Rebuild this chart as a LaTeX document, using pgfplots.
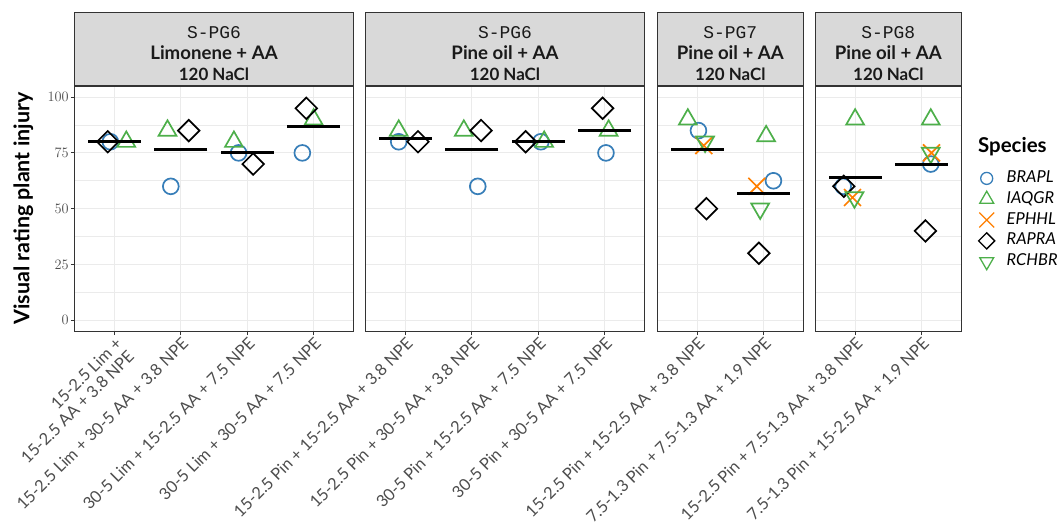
\documentclass[border=0pt]{standalone}
\usepackage{pgfplots}
\pgfplotsset{compat=1.18}
\usepackage{fontspec}
\setmainfont{Lato}
\newfontfamily\monofont{Liberation Mono}

\definecolor{cBRAPL}{HTML}{377EB8}
\definecolor{cIAQGR}{HTML}{4DAF4A}
\definecolor{cEPHHL}{HTML}{FF7F00}
\definecolor{cRCHBR}{HTML}{4DAF4A}
\definecolor{grey10}{HTML}{1A1A1A}
\definecolor{grey20}{HTML}{333333}
\definecolor{grey30}{HTML}{4D4D4D}
\definecolor{grey85}{HTML}{D9D9D9}
\definecolor{grey92}{HTML}{EBEBEB}

\pgfplotsset{
  facet/.style={
    scale only axis, height=245.3bp, anchor=south west,
    ymin=-5, ymax=105,
    ytick={0,25,50,75,100}, minor ytick={12.5,37.5,62.5,87.5},
    grid=both,
    major grid style={grey92, line width=1.1bp},
    minor grid style={grey92, line width=0.55bp},
    axis line style={grey20, line width=1.1bp},
    tick align=outside, xtick pos=bottom, ytick pos=left,
    major tick length=3.7bp, minor tick length=0pt,
    tick style={grey20, line width=1.1bp},
    xticklabel style={rotate=45, anchor=north east, align=right,
      font=\fontsize{16.5}{17.5}\selectfont, text=grey30, inner sep=1bp},
    yticklabel style={font=\fontsize{15.5}{16}\selectfont, text=grey30, inner sep=2bp},
    clip=false,
  },
  brapl/.style={only marks, mark=o, cBRAPL, mark size=7.9bp, line width=1.7bp},
  iaqgr/.style={only marks, mark=triangle, cIAQGR, mark size=10.3bp, line width=1.7bp},
  ephhl/.style={only marks, mark=x, cEPHHL, mark size=12bp, line width=1.7bp},
  rapra/.style={only marks, mark=square, mark options={rotate=45}, black, mark size=7.6bp, line width=1.7bp},
  rchbr/.style={only marks, mark=triangle, mark options={rotate=180}, cRCHBR, mark size=10.3bp, line width=1.7bp},
  treatmean/.style={only marks, mark=-, black, mark size=26.5bp, line width=3bp},
}
\tikzset{
  striptop/.style={font=\monofont\fontsize{18}{20}\selectfont, text=grey10},
  stripmid/.style={font=\bfseries\fontsize{18.7}{20}\selectfont, text=grey10},
  stripbot/.style={font=\bfseries\fontsize{17}{18}\selectfont, text=grey10},
}

\newcommand\facetstrip[4]{%
  \draw[fill=grey85, draw=grey20, line width=1.1bp] (#1.north west) rectangle ([yshift=73.7bp]#1.north east);
  \node[striptop] at ([yshift=53.5bp]#1.north) {#2};
  \node[stripmid] at ([yshift=33.8bp]#1.north) {#3};
  \node[stripbot] at ([yshift=11.5bp]#1.north) {#4};
}

\begin{document}
\begin{tikzpicture}
\useasboundingbox (0,0) rectangle (1064bp,522bp);

% S-PG6, limonene
\begin{axis}[facet, name=p1, at={(74.5bp,190.7bp)}, width=279bp,
  xmin=0.4, xmax=4.6, xtick={1,2,3,4},
  xticklabels={{15-2.5 Lim +\\15-2.5 AA + 3.8 NPE},{15-2.5 Lim + 30-5 AA + 3.8 NPE},{30-5 Lim + 15-2.5 AA + 7.5 NPE},{30-5 Lim + 30-5 AA + 7.5 NPE}},
  ylabel={Visual rating plant injury},
  ylabel style={at={(axis description cs:-0.1835,0.5)}, anchor=center,
    font=\bfseries\fontsize{21.5}{23}\selectfont, text=black}]
\addplot[brapl] coordinates {(0.94,80) (1.85,60) (2.87,75) (3.83,75)};
\addplot[iaqgr] coordinates {(1.18,80) (1.80,85) (2.80,80) (4.00,90)};
\addplot[rapra] coordinates {(0.90,80) (2.12,85) (3.09,70) (3.89,95)};
\addplot[treatmean] coordinates {(1,80) (2,76.67) (3,75) (4,86.67)};
\end{axis}
\facetstrip{p1}{S-PG6}{Limonene + AA}{120 NaCl}

% S-PG6, pine oil
\begin{axis}[facet, name=p2, at={(365.5bp,190.7bp)}, width=279bp,
  xmin=0.4, xmax=4.6, xtick={1,2,3,4}, yticklabels={}, ytick style={draw=none},
  xticklabels={{15-2.5 Pin + 15-2.5 AA + 3.8 NPE},{15-2.5 Pin + 30-5 AA + 3.8 NPE},{30-5 Pin + 15-2.5 AA + 7.5 NPE},{30-5 Pin + 30-5 AA + 7.5 NPE}}]
\addplot[brapl] coordinates {(0.90,80) (2.09,60) (3.04,80) (4.02,75)};
\addplot[iaqgr] coordinates {(0.90,85) (1.88,85) (3.09,80) (4.06,85)};
\addplot[rapra] coordinates {(1.19,80) (2.14,85) (2.81,80) (3.97,95)};
\addplot[treatmean] coordinates {(1,81.67) (2,76.67) (3,80) (4,85)};
\end{axis}
\facetstrip{p2}{S-PG6}{Pine oil + AA}{120 NaCl}

% S-PG7, pine oil
\begin{axis}[facet, name=p3, at={(657.3bp,190.7bp)}, width=146bp,
  xmin=0.4, xmax=2.6, xtick={1,2}, yticklabels={}, ytick style={draw=none},
  xticklabels={{15-2.5 Pin + 15-2.5 AA + 3.8 NPE},{7.5-1.3 Pin + 7.5-1.3 AA + 1.9 NPE}}]
\addplot[brapl] coordinates {(1.02,85) (2.15,62.5)};
\addplot[iaqgr] coordinates {(0.86,90) (2.04,82.5)};
\addplot[ephhl] coordinates {(1.10,78.3) (1.90,60)};
\addplot[rapra] coordinates {(1.14,50) (1.93,30)};
\addplot[rchbr] coordinates {(1.12,80) (1.95,50)};
\addplot[treatmean] coordinates {(1,76.67) (2,57)};
\end{axis}
\facetstrip{p3}{S-PG7}{Pine oil + AA}{120 NaCl}

% S-PG8, pine oil
\begin{axis}[facet, name=p4, at={(815.3bp,190.7bp)}, width=146bp,
  xmin=0.4, xmax=2.6, xtick={1,2}, yticklabels={}, ytick style={draw=none},
  xticklabels={{15-2.5 Pin + 7.5-1.3 AA + 3.8 NPE},{7.5-1.3 Pin + 15-2.5 AA + 1.9 NPE}},
  legend style={at={(axis description cs:1.1055,0.6559)}, anchor=north west,
    draw=none, fill=none, inner sep=0pt, outer sep=0pt, row sep=4.8bp,
    font=\itshape\fontsize{16.5}{18}\selectfont,
    nodes={inner sep=0pt, text height=12bp, text depth=4bp},
    /tikz/every odd column/.append style={column sep=10bp}},
  legend cell align=left,
  legend image code/.code={\draw[#1] plot coordinates {(0bp,0bp)}; \path[draw=none, fill=none] (-10bp,-8bp) rectangle (10bp,8bp);}]
\addplot[brapl, forget plot] coordinates {(0.82,60) (2.14,70)};
\addplot[iaqgr, forget plot] coordinates {(1.00,90) (2.14,90)};
\addplot[ephhl, forget plot] coordinates {(0.96,55) (2.15,75)};
\addplot[rapra, forget plot] coordinates {(0.83,60) (2.06,40)};
\addplot[rchbr, forget plot] coordinates {(0.99,55) (2.14,75)};
\addplot[treatmean, forget plot] coordinates {(1,64) (2,70)};
\addlegendimage{brapl, mark size=6bp, line width=1.3bp}
\addlegendentry{BRAPL}
\addlegendimage{iaqgr, mark size=8bp, line width=1.3bp}
\addlegendentry{IAQGR}
\addlegendimage{ephhl, mark size=10.5bp, line width=1.3bp}
\addlegendentry{EPHHL}
\addlegendimage{rapra, mark size=5.7bp, line width=1.3bp}
\addlegendentry{RAPRA}
\addlegendimage{rchbr, mark size=8bp, line width=1.3bp}
\addlegendentry{RCHBR}
\end{axis}
\facetstrip{p4}{S-PG8}{Pine oil + AA}{120 NaCl}

\node[anchor=west, font=\bfseries\fontsize{20.5}{22}\selectfont, text=black, inner sep=0pt] at (978bp,375bp) {Species};
\end{tikzpicture}
\end{document}
